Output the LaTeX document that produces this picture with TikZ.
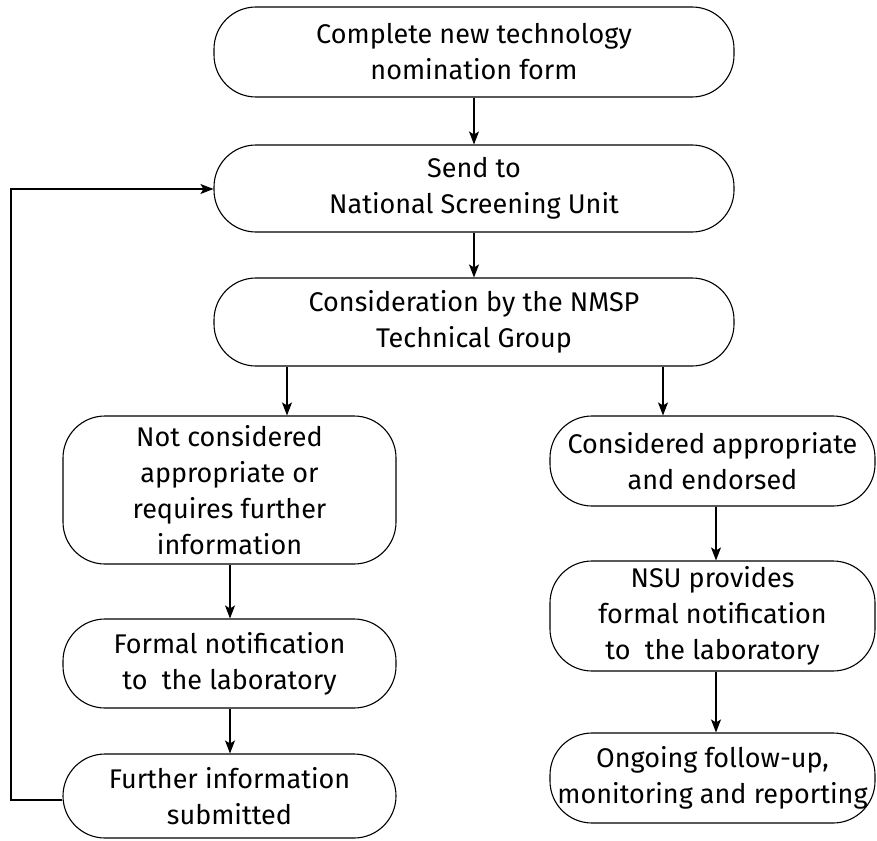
\documentclass[tikz,border=0pt]{standalone}
\usepackage{fontspec}
\setmainfont{Fira Sans}
\usetikzlibrary{arrows.meta}
\begin{document}
\begin{tikzpicture}[x=1pt,y=-1pt,
  box/.style={draw, line width=1.1pt, rounded corners=42pt, align=center,
    font=\fontsize{27}{36}\selectfont, inner sep=0pt},
  arr/.style={line width=1.1pt, -{Stealth[length=13pt,width=10pt,inset=3pt]}}]
\useasboundingbox (0,0) rectangle (877,840);
\node[box, minimum width=520pt, minimum height=90pt] (b1) at (474,52) {Complete new technology\\nomination form};
\node[box, minimum width=520pt, minimum height=87pt] (b2) at (474,188.5) {Send to\\National Screening Unit};
\node[box, minimum width=520pt, minimum height=88pt] (b3) at (474,322) {Consideration by the NMSP\\Technical Group};
\node[box, minimum width=333pt, minimum height=148pt] (b4) at (229.5,490) {Not considered\\appropriate or\\requires further\\information};
\node[box, minimum width=333pt, minimum height=89pt] (b5) at (229.5,663.5) {Formal notification\\to\ \ the laboratory};
\node[box, minimum width=333pt, minimum height=84pt] (b6) at (229.5,796) {Further information\\submitted};
\node[box, minimum width=325pt, minimum height=90pt] (b7) at (712.5,461) {Considered appropriate\\and endorsed};
\node[box, minimum width=325pt, minimum height=110pt] (b8) at (712.5,616) {NSU provides\\formal notification\\to\ \ the laboratory};
\node[box, minimum width=325pt, minimum height=90pt] (b9) at (712.5,778) {Ongoing follow-up,\\monitoring and reporting};
\draw[arr] (b1.south) -- (b2.north);
\draw[arr] (b2.south) -- (b3.north);
\draw[arr] (b3.south -| b4.north) ++(57.5,0) coordinate (s1) -- (s1 |- b4.north);
\draw[arr] (b3.south -| b7.north) ++(-49.5,0) coordinate (s2) -- (s2 |- b7.north);
\draw[arr] (b4.south) ++(0.5,0) coordinate (s3) -- (s3 |- b5.north);
\draw[arr] (b5.south) ++(0.5,0) coordinate (s4) -- (s4 |- b6.north);
\draw[arr] (b7.south) ++(3.5,0) coordinate (s5) -- (s5 |- b8.north);
\draw[arr] (b8.south) ++(3.5,0) coordinate (s6) -- (s6 |- b9.north);
\coordinate (c1) at (11,800);
\coordinate (c2) at (11,189);
\draw[arr] (b6.west |- c1) -- (c1) -- (c2) -- (b2.west |- c2);
\end{tikzpicture}
\end{document}
